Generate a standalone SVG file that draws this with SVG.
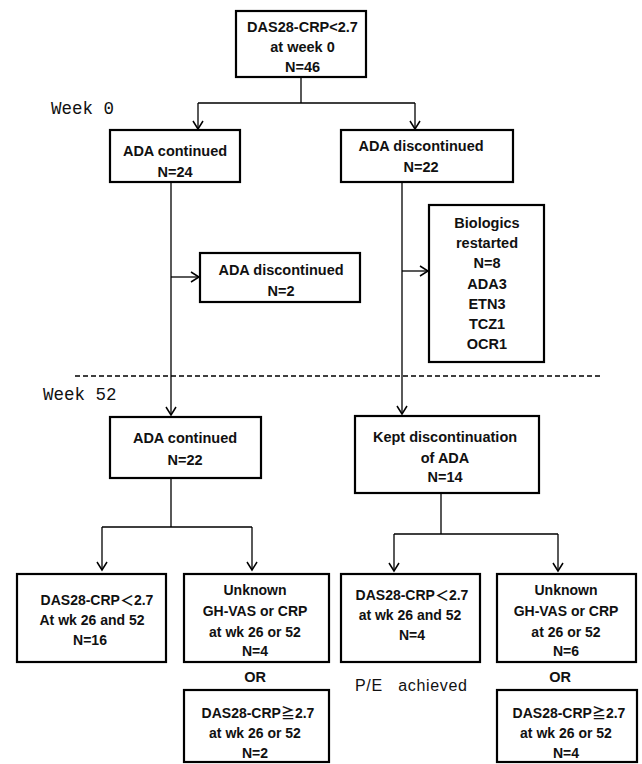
<svg xmlns="http://www.w3.org/2000/svg" width="642" height="764" viewBox="0 0 642 764">
<style>
.box{fill:#fff;stroke:#000;stroke-width:2.2}
.t{font-family:"Liberation Sans","Noto Sans CJK JP",sans-serif;font-weight:bold;font-size:14.5px;fill:#111;text-anchor:middle}
.s{font-size:14px}
.wk{font-family:"Liberation Mono","DejaVu Sans Mono",monospace;font-size:17.5px;fill:#111}
.pe{font-family:"Liberation Sans","Noto Sans CJK JP",sans-serif;font-size:16px;fill:#111}
.ln{fill:none;stroke:#000;stroke-width:1.3}
.ar{marker-end:url(#ah)}
</style>
<defs>
<marker id="ah" markerUnits="userSpaceOnUse" viewBox="-10 -7 12 14" refX="0" refY="0" markerWidth="12" markerHeight="14" orient="auto">
<path d="M-8,-5 L0,0 L-8,5" fill="none" stroke="#000" stroke-width="1.5"/>
</marker>
</defs>
<rect width="642" height="764" fill="#fff"/>
<g id="connectors">
<path class="ln" d="M301,77 V103 M198,103 H415"/>
<path class="ln ar" d="M198,103 V129"/>
<path class="ln ar" d="M415,103 V129"/>
<path class="ln ar" d="M171,182 V415"/>
<path class="ln ar" d="M171,277 H199"/>
<path class="ln ar" d="M402,182 V414"/>
<path class="ln ar" d="M402,271 H428"/>
<path class="ln" d="M171,478 V527 M102,527 H252"/>
<path class="ln ar" d="M102,527 V570"/>
<path class="ln ar" d="M252,527 V570"/>
<path class="ln" d="M441,493 V534 M394,534 H558"/>
<path class="ln ar" d="M394,534 V571"/>
<path class="ln ar" d="M558,534 V571"/>
<line x1="75" y1="376" x2="600" y2="376" stroke="#000" stroke-width="1.5" stroke-dasharray="5 3"/>
</g>
<g id="labels">
<text class="wk" x="51" y="114">Week 0</text>
<text class="wk" x="43" y="400">Week 52</text>
<text class="pe" x="355" y="691" textLength="112" lengthAdjust="spacing" xml:space="preserve">P/E   achieved</text>
<text class="t" x="255" y="682">OR</text>
<text class="t" x="560" y="682">OR</text>
</g>
<g id="start">
<rect class="box" x="236" y="11" width="130" height="66"/>
<text class="t" x="302.5" y="32">DAS28-CRP&lt;2.7</text>
<text class="t" x="302.5" y="52">at week 0</text>
<text class="t" x="302.5" y="72">N=46</text>
</g>
<g id="ada-continued-0">
<rect class="box" x="110" y="130" width="130" height="52"/>
<text class="t" x="175" y="156">ADA continued</text>
<text class="t" x="175" y="177">N=24</text>
</g>
<g id="ada-discontinued-0">
<rect class="box" x="341" y="130" width="172" height="52"/>
<text class="t" x="421" y="151">ADA discontinued</text>
<text class="t" x="421" y="172">N=22</text>
</g>
<g id="ada-discontinued-2">
<rect class="box" x="200" y="253" width="160" height="49"/>
<text class="t" x="281" y="275">ADA discontinued</text>
<text class="t" x="281" y="296">N=2</text>
</g>
<g id="biologics">
<rect class="box" x="429" y="205" width="115" height="157"/>
<text class="t" x="487" y="228">Biologics</text>
<text class="t" x="487" y="248">restarted</text>
<text class="t" x="487" y="268">N=8</text>
<text class="t" x="487" y="288.5">ADA3</text>
<text class="t" x="487" y="309">ETN3</text>
<text class="t" x="487" y="329">TCZ1</text>
<text class="t" x="487" y="349">OCR1</text>
</g>
<g id="ada-continued-52">
<rect class="box" x="110" y="417" width="151" height="61"/>
<text class="t" x="185" y="443">ADA continued</text>
<text class="t" x="185" y="465">N=22</text>
</g>
<g id="kept-discontinuation">
<rect class="box" x="355" y="416" width="184" height="77"/>
<text class="t" x="445" y="442">Kept discontinuation</text>
<text class="t" x="445" y="463">of ADA</text>
<text class="t" x="445" y="482">N=14</text>
</g>
<g id="remission-cont">
<rect class="box" x="17" y="574" width="149" height="88"/>
<text class="t s" x="97" y="605">DAS28-CRP＜2.7</text>
<text class="t s" x="92" y="625">At wk 26 and 52</text>
<text class="t s" x="90" y="645">N=16</text>
</g>
<g id="unknown-cont">
<rect class="box" x="184" y="574" width="145" height="88"/>
<text class="t s" x="255" y="595">Unknown</text>
<text class="t s" x="255" y="616">GH-VAS or CRP</text>
<text class="t s" x="255" y="637">at wk 26 or 52</text>
<text class="t s" x="255" y="656">N=4</text>
</g>
<g id="flare-cont">
<rect class="box" x="184" y="690" width="145" height="72"/>
<text class="t s" x="258" y="718">DAS28-CRP≧2.7</text>
<text class="t s" x="255" y="738">at wk 26 or 52</text>
<text class="t s" x="255" y="758">N=2</text>
</g>
<g id="remission-disc">
<rect class="box" x="341" y="574" width="139" height="88"/>
<text class="t s" x="412" y="600">DAS28-CRP＜2.7</text>
<text class="t s" x="410" y="620">at wk 26 and 52</text>
<text class="t s" x="412" y="640">N=4</text>
</g>
<g id="unknown-disc">
<rect class="box" x="497" y="574" width="139" height="88"/>
<text class="t s" x="566" y="595">Unknown</text>
<text class="t s" x="566" y="616">GH-VAS or CRP</text>
<text class="t s" x="566" y="637">at 26 or 52</text>
<text class="t s" x="566" y="656">N=6</text>
</g>
<g id="flare-disc">
<rect class="box" x="497" y="690" width="140" height="72"/>
<text class="t s" x="569" y="718">DAS28-CRP≧2.7</text>
<text class="t s" x="566" y="738">at wk 26 or 52</text>
<text class="t s" x="566" y="758">N=4</text>
</g>
</svg>
